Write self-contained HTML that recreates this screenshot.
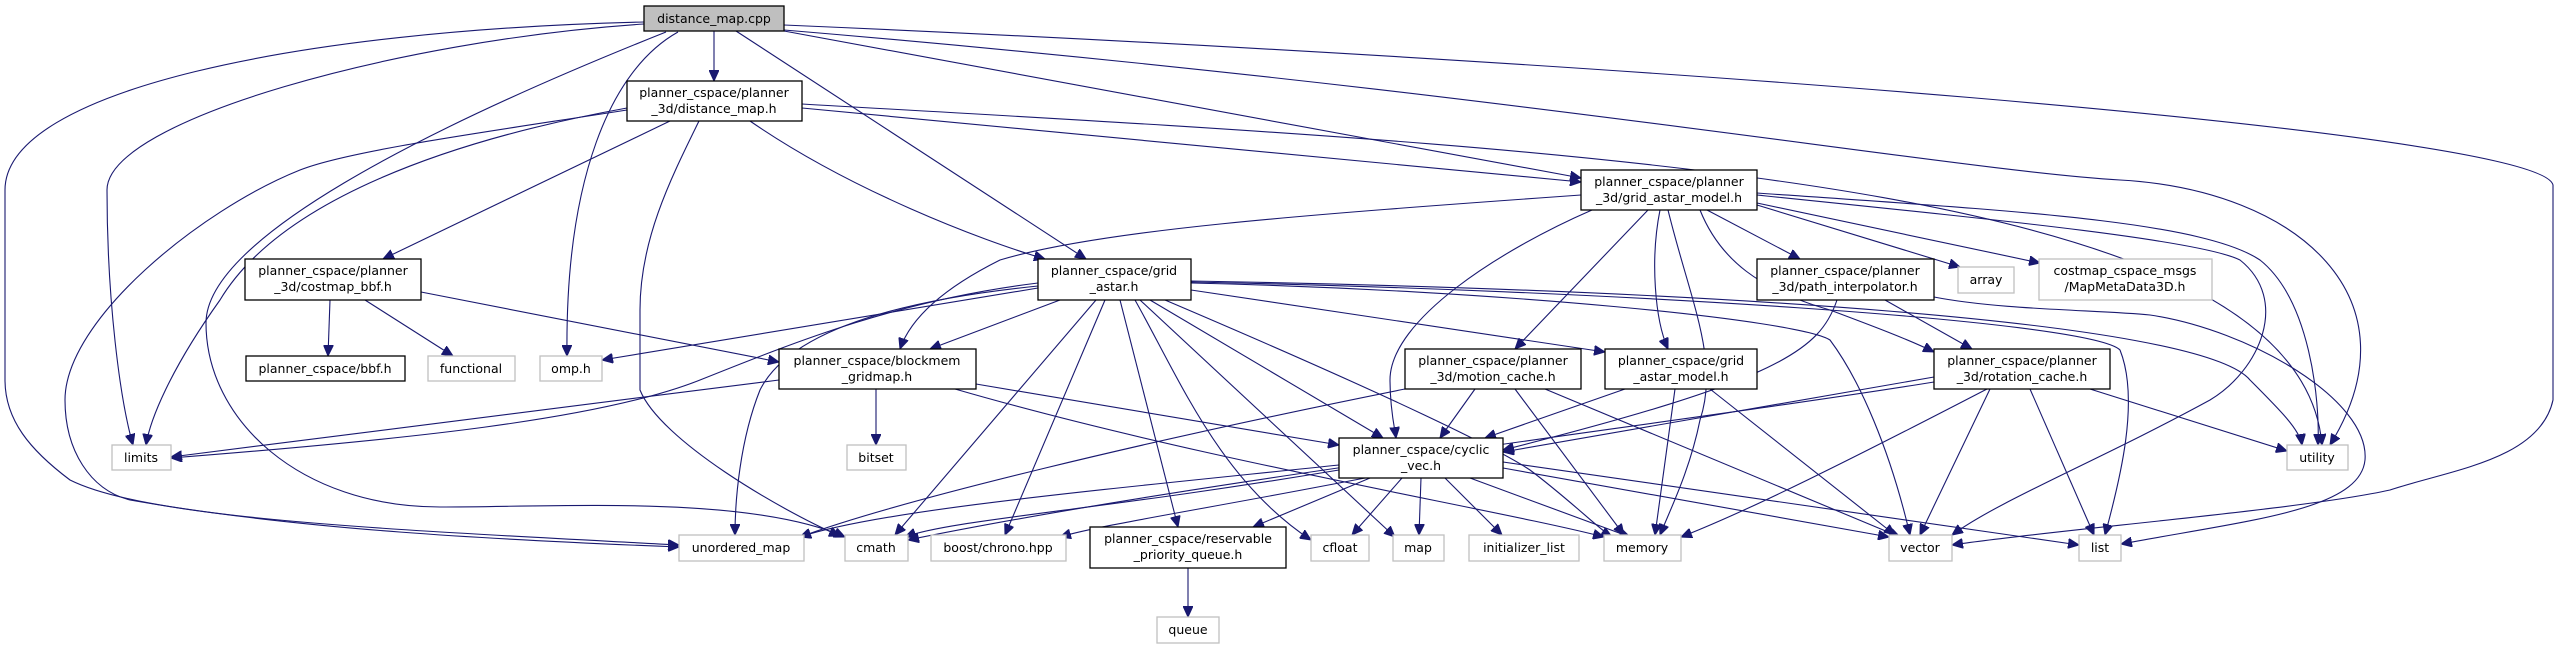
<!DOCTYPE html>
<html><head><meta charset="utf-8"><style>
html,body{margin:0;padding:0;background:#fff;}
svg{display:block;}
text{font-family:"DejaVu Sans","Liberation Sans",sans-serif;font-size:12.5px;fill:#000;text-anchor:middle;}
.n{fill:#fff;stroke:#000;stroke-width:1.3;}
.g{fill:#fff;stroke:#c0c0c0;stroke-width:1.3;}
path{fill:none;stroke:#191970;stroke-width:1.1;}
</style></head><body>
<svg width="2557" height="648" viewBox="0 0 2557 648" xmlns="http://www.w3.org/2000/svg">
<defs><marker id="a" markerUnits="userSpaceOnUse" markerWidth="12" markerHeight="10" refX="11" refY="5" orient="auto"><path d="M0,0 L11,5 L0,10 z" style="fill:#191970;stroke:#191970;stroke-width:1"/></marker></defs>
<g marker-end="url(#a)">
<!-- cpp -->
<path d="M714,31 L714,81"/>
<path d="M644,22 C300,30 5,90 5,190 L5,380 C5,420 30,450 70,480 C150,520 400,530 679,545"/>
<path d="M644,24 C400,40 107,120 107,190 C107,300 120,400 133,445"/>
<path d="M666,32 C420,130 206,240 206,323 C206,420 300,507 440,507 C560,507 750,495 845,537"/>
<path d="M678,32 C610,70 565,180 567,356"/>
<path d="M736,31 L1086,259"/>
<path d="M784,31 L1581,178"/>
<path d="M784,30 C1500,90 1950,170 2120,180 C2300,190 2420,300 2330,445"/>
<path d="M784,25 C1600,60 2540,130 2553,185 L2553,400 C2540,460 2450,470 2390,490 C2300,510 2050,530 1952,545"/>
<!-- distance_map.h -->
<path d="M670,121 L383,259"/>
<path d="M627,108 C450,140 280,200 220,300 C170,370 150,420 146,445"/>
<path d="M627,110 C500,130 350,150 300,170 C200,210 65,320 65,400 C65,450 90,490 130,500 C300,530 500,540 679,547"/>
<path d="M699,121 C670,180 640,240 640,310 L640,390 C660,440 780,510 840,536"/>
<path d="M750,121 C850,190 980,240 1045,259"/>
<path d="M802,108 L1581,182"/>
<path d="M802,104 C1600,150 2300,180 2322,445"/>
<!-- costmap_bbf -->
<path d="M330,300 L328,356"/>
<path d="M365,300 L453,356"/>
<path d="M421,292 L779,362"/>
<!-- grid_astar -->
<path d="M1038,283 C900,300 800,340 700,380 C600,420 400,440 171,458"/>
<path d="M1038,288 L602,360"/>
<path d="M1038,286 C900,300 790,330 760,390 C740,440 735,500 735,535"/>
<path d="M1060,300 L930,349"/>
<path d="M1096,300 L895,535"/>
<path d="M1105,300 L1005,535"/>
<path d="M1120,300 L1178,527"/>
<path d="M1135,300 C1180,380 1220,480 1311,540"/>
<path d="M1140,300 L1395,537"/>
<path d="M1150,300 L1383,438"/>
<path d="M1165,300 C1400,400 1500,450 1530,470 C1570,500 1600,530 1612,537"/>
<path d="M1191,283 C1500,290 1800,320 1830,340 C1860,380 1890,450 1910,535"/>
<path d="M1191,282 C1600,290 2090,320 2120,350 C2140,400 2120,480 2105,535"/>
<path d="M1191,281 C1700,290 2200,320 2250,380 C2280,410 2300,430 2302,445"/>
<path d="M1191,290 L1605,352"/>
<!-- grid_astar_model 3d -->
<path d="M1581,195 C1300,215 1100,230 1000,260 C940,290 910,320 900,349"/>
<path d="M1592,210 C1500,250 1390,320 1390,380 C1390,410 1395,430 1396,438"/>
<path d="M1648,210 L1515,349"/>
<path d="M1660,210 C1650,260 1655,320 1668,349"/>
<path d="M1668,210 C1690,300 1720,360 1700,420 C1690,470 1670,510 1660,535"/>
<path d="M1707,210 L1800,259"/>
<path d="M1757,205 L1960,267"/>
<path d="M1757,203 L2040,263"/>
<path d="M1757,193 C2000,210 2200,220 2260,260 C2310,300 2320,400 2318,445"/>
<path d="M1757,195 C2000,220 2200,240 2240,260 C2290,300 2260,370 2210,400 C2100,460 2000,500 1952,535"/>
<path d="M1700,210 C1720,260 1760,290 1830,310 C1870,325 1910,340 1934,352"/>
<!-- blockmem -->
<path d="M779,380 L171,457"/>
<path d="M876,389 L876,445"/>
<path d="M976,384 L1339,445"/>
<path d="M955,389 C1200,460 1500,510 1604,537"/>
<!-- motion -->
<path d="M1405,389 C1150,440 900,500 800,537"/>
<path d="M1475,389 L1440,438"/>
<path d="M1515,389 L1624,535"/>
<path d="M1545,389 L1900,537"/>
<!-- gam -->
<path d="M1625,389 L1485,438"/>
<path d="M1675,389 L1655,535"/>
<path d="M1710,389 L1895,535"/>
<!-- path interp -->
<path d="M1837,300 C1820,350 1780,380 1503,450"/>
<path d="M1885,300 L1972,349"/>
<path d="M1934,297 C2000,310 2100,310 2150,315 C2250,330 2370,400 2365,460 C2360,510 2250,520 2121,544"/>
<!-- rotation -->
<path d="M1934,377 L1503,452"/>
<path d="M1934,382 C1700,420 1200,480 908,540"/>
<path d="M1990,389 L1920,535"/>
<path d="M1987,389 C1850,460 1750,510 1681,537"/>
<path d="M2030,389 L2094,535"/>
<path d="M2090,389 L2287,451"/>
<!-- cyclic -->
<path d="M1339,465 C1100,490 880,510 800,537"/>
<path d="M1339,470 C1100,510 950,520 905,537"/>
<path d="M1365,478 C1200,510 1100,525 1060,537"/>
<path d="M1370,478 L1253,527"/>
<path d="M1402,478 L1352,535"/>
<path d="M1421,478 L1419,535"/>
<path d="M1445,478 L1502,535"/>
<path d="M1470,478 L1630,537"/>
<path d="M1503,468 L1889,537"/>
<path d="M1503,462 L2079,545"/>
<path d="M1188,568 L1188,617"/>
</g>
<!-- nodes -->
<rect x="644" y="6" width="140" height="25" style="fill:#bfbfbf;stroke:#000;stroke-width:1.3"/><text x="714" y="23">distance_map.cpp</text>
<rect class="n" x="627" y="81" width="175" height="40"/><text x="714" y="97">planner_cspace/planner</text><text x="714" y="113">_3d/distance_map.h</text>
<rect class="n" x="245" y="259" width="176" height="41"/><text x="333" y="275">planner_cspace/planner</text><text x="333" y="291">_3d/costmap_bbf.h</text>
<rect class="n" x="246" y="356" width="159" height="25"/><text x="325" y="373">planner_cspace/bbf.h</text>
<rect class="g" x="428" y="356" width="87" height="25"/><text x="471" y="373">functional</text>
<rect class="g" x="540" y="356" width="62" height="25"/><text x="571" y="373">omp.h</text>
<rect class="g" x="112" y="445" width="59" height="25"/><text x="141" y="462">limits</text>
<rect class="g" x="679" y="535" width="125" height="26"/><text x="741" y="552">unordered_map</text>
<rect class="g" x="845" y="535" width="63" height="26"/><text x="876" y="552">cmath</text>
<rect class="n" x="779" y="349" width="197" height="40"/><text x="877" y="365">planner_cspace/blockmem</text><text x="877" y="381">_gridmap.h</text>
<rect class="g" x="847" y="445" width="59" height="25"/><text x="876" y="462">bitset</text>
<rect class="n" x="1038" y="259" width="153" height="41"/><text x="1114" y="275">planner_cspace/grid</text><text x="1114" y="291">_astar.h</text>
<rect class="n" x="1581" y="170" width="176" height="40"/><text x="1669" y="186">planner_cspace/planner</text><text x="1669" y="202">_3d/grid_astar_model.h</text>
<rect class="n" x="1405" y="349" width="176" height="40"/><text x="1493" y="365">planner_cspace/planner</text><text x="1493" y="381">_3d/motion_cache.h</text>
<rect class="n" x="1605" y="349" width="152" height="40"/><text x="1681" y="365">planner_cspace/grid</text><text x="1681" y="381">_astar_model.h</text>
<rect class="n" x="1339" y="438" width="164" height="40"/><text x="1421" y="454">planner_cspace/cyclic</text><text x="1421" y="470">_vec.h</text>
<rect class="g" x="931" y="535" width="135" height="26"/><text x="998" y="552">boost/chrono.hpp</text>
<rect class="n" x="1090" y="527" width="196" height="41"/><text x="1188" y="543">planner_cspace/reservable</text><text x="1188" y="559">_priority_queue.h</text>
<rect class="g" x="1157" y="617" width="62" height="26"/><text x="1188" y="634">queue</text>
<rect class="g" x="1311" y="535" width="58" height="26"/><text x="1340" y="552">cfloat</text>
<rect class="g" x="1393" y="535" width="51" height="26"/><text x="1418" y="552">map</text>
<rect class="g" x="1469" y="535" width="110" height="26"/><text x="1524" y="552">initializer_list</text>
<rect class="g" x="1604" y="535" width="77" height="26"/><text x="1642" y="552">memory</text>
<rect class="n" x="1757" y="259" width="177" height="41"/><text x="1845" y="275">planner_cspace/planner</text><text x="1845" y="291">_3d/path_interpolator.h</text>
<rect class="g" x="1958" y="267" width="56" height="26"/><text x="1986" y="284">array</text>
<rect class="g" x="2039" y="259" width="173" height="41"/><text x="2125" y="275">costmap_cspace_msgs</text><text x="2125" y="291">/MapMetaData3D.h</text>
<rect class="n" x="1934" y="349" width="176" height="40"/><text x="2022" y="365">planner_cspace/planner</text><text x="2022" y="381">_3d/rotation_cache.h</text>
<rect class="g" x="2287" y="445" width="61" height="25"/><text x="2317" y="462">utility</text>
<rect class="g" x="1889" y="535" width="63" height="26"/><text x="1920" y="552">vector</text>
<rect class="g" x="2079" y="535" width="42" height="26"/><text x="2100" y="552">list</text>
</svg>
</body></html>
